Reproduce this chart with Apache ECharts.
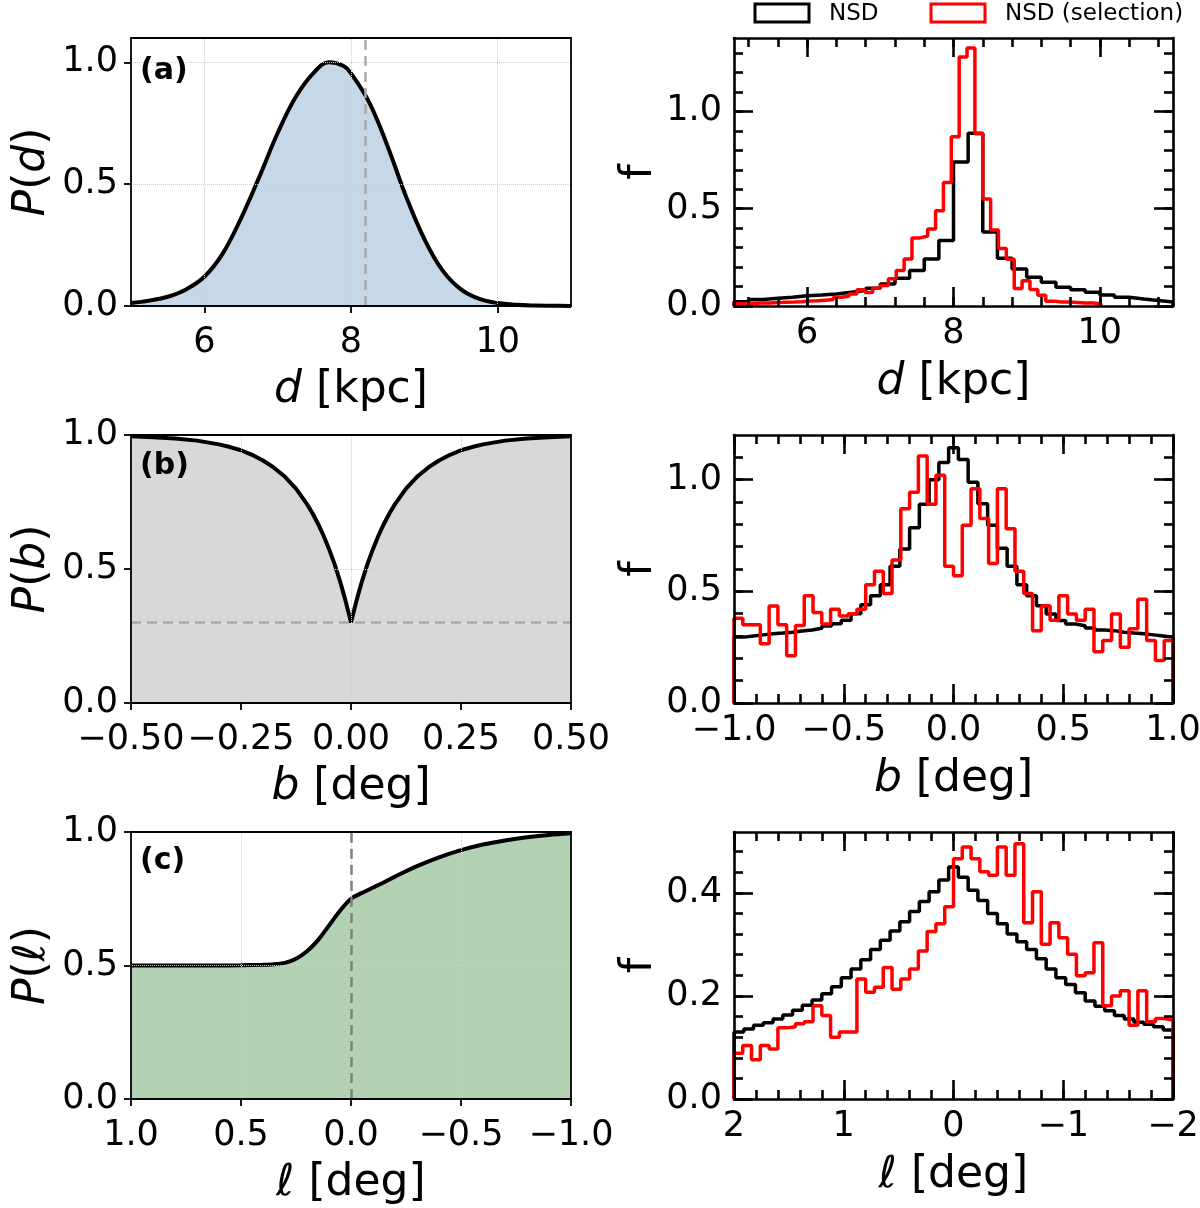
<!DOCTYPE html>
<html><head><meta charset="utf-8">
<script src="https://cdn.jsdelivr.net/npm/echarts@6/dist/echarts.min.js"></script>
<style>html,body{margin:0;padding:0;background:#fff}#c{width:1200px;height:1208px}</style>
</head><body><div id="c"></div><script>
// ---------------- data ----------------
// panel (a): P(d)
const dCurveX = [5.0,5.25,5.5,5.75,6.0,6.25,6.5,6.75,7.0,7.25,7.5,7.7,7.9,8.0,8.25,8.5,8.75,9.0,9.25,9.5,9.75,10.0,10.25,10.5,10.75,11.0];
const dCurveY = [0.012,0.022,0.038,0.068,0.12,0.215,0.36,0.53,0.71,0.86,0.96,1.0,0.985,0.955,0.835,0.655,0.45,0.275,0.145,0.068,0.029,0.012,0.005,0.002,0.001,0.0005];
const dMarker = 8.2;
// panel (b): P(b)
const bCurveX = [-0.5,-0.45,-0.4,-0.35,-0.3,-0.275,-0.25,-0.225,-0.2,-0.175,-0.15,-0.125,-0.1,-0.0875,-0.075,-0.0625,-0.05,-0.0375,-0.025,-0.0125,0,
                 0.0125,0.025,0.0375,0.05,0.0625,0.075,0.0875,0.1,0.125,0.15,0.175,0.2,0.225,0.25,0.275,0.3,0.35,0.4,0.45,0.5];
const bCurveY = [0.995,0.992,0.987,0.979,0.965,0.955,0.943,0.926,0.905,0.878,0.844,0.80,0.742,0.708,0.669,0.625,0.575,0.519,0.455,0.382,0.30,
                 0.382,0.455,0.519,0.575,0.625,0.669,0.708,0.742,0.80,0.844,0.878,0.905,0.926,0.943,0.955,0.965,0.979,0.987,0.992,0.995];
const bMarker = 0.3;
// panel (c): P(l)
const lCurveX = [1.0,0.8,0.6,0.5,0.4,0.35,0.3,0.25,0.2,0.15,0.1,0.05,0.0,-0.05,-0.1,-0.15,-0.2,-0.3,-0.4,-0.5,-0.6,-0.7,-0.8,-0.9,-1.0];
const lCurveY = [0.5,0.5,0.5,0.501,0.503,0.505,0.51,0.525,0.553,0.595,0.65,0.705,0.75,0.772,0.792,0.812,0.833,0.872,0.905,0.932,0.953,0.968,0.98,0.989,0.995];
const lMarker = 0.0;

// histograms: bin start, bin width, values
const dBlackStart = 5.0, dBlackWidth = 0.2;
const dHistBlack = [0.022,0.033,0.040,0.045,0.053,0.057,0.062,0.071,0.079,0.091,0.113,0.142,0.182,0.242,0.337,0.74,0.887,0.38,0.245,0.19,0.148,0.122,0.096,0.083,0.071,0.057,0.045,0.036,0.028,0.02];
const dRedStart = 4.96, dRedWidth = 0.1075;
const dHistRed = [0.012,0.013,0.014,0.015,0.016,0.018,0.019,0.02,0.022,0.026,0.027,0.03,0.033,0.045,0.05,0.062,0.083,0.07,0.091,0.105,0.14,0.182,0.242,0.35,0.36,0.395,0.49,0.635,0.87,1.28,1.325,0.885,0.55,0.39,0.295,0.24,0.09,0.13,0.085,0.055,0.025,0.02,0.02,0.018,0.016,0.015,0.012];

const bBlackStart = -1.0, bBlackWidth = 2/45;
const bHistBlack = [0.295,0.30,0.305,0.31,0.313,0.317,0.322,0.327,0.335,0.345,0.355,0.37,0.40,0.44,0.48,0.53,0.612,0.69,0.785,0.89,1.0,1.077,1.143,1.09,0.988,0.892,0.796,0.693,0.612,0.53,0.48,0.435,0.398,0.369,0.354,0.346,0.336,0.327,0.324,0.317,0.313,0.31,0.305,0.30,0.295];
const bRedStart = -1.0, bRedWidth = 0.04;
const bHistRed = [0.38,0.35,0.35,0.265,0.434,0.35,0.212,0.347,0.48,0.405,0.354,0.42,0.39,0.40,0.42,0.53,0.59,0.49,0.64,0.87,0.944,1.106,0.89,1.02,0.612,0.57,0.796,0.959,0.826,0.625,0.959,0.78,0.59,0.49,0.324,0.435,0.37,0.48,0.398,0.37,0.42,0.229,0.28,0.398,0.25,0.332,0.465,0.28,0.19,0.28];

const lBlackStart = 2.0, lBlackWidth = -4/45;
const lHistBlack = [0.13,0.136,0.143,0.148,0.155,0.163,0.172,0.182,0.192,0.204,0.218,0.235,0.252,0.27,0.29,0.308,0.326,0.344,0.364,0.383,0.402,0.425,0.45,0.43,0.405,0.385,0.36,0.34,0.32,0.305,0.29,0.272,0.252,0.235,0.222,0.206,0.19,0.18,0.171,0.162,0.155,0.149,0.145,0.14,0.134];
const lRedStart = 2.0, lRedWidth = -0.08;
const lHistRed = [0.089,0.104,0.076,0.104,0.097,0.138,0.14,0.146,0.15,0.181,0.162,0.12,0.13,0.13,0.233,0.207,0.217,0.255,0.213,0.233,0.252,0.287,0.325,0.34,0.373,0.466,0.489,0.466,0.441,0.434,0.489,0.434,0.495,0.342,0.402,0.30,0.342,0.313,0.281,0.239,0.245,0.303,0.181,0.20,0.21,0.143,0.21,0.15,0.156,0.153];

// tick labels
const aXTicks = [6,8,10], aYTicks = [0,0.5,1.0];
const bXTicks = [-0.5,-0.25,0,0.25,0.5], bYTicks = [0,0.5,1.0];
const cXTicks = [1,0.5,0,-0.5,-1], cYTicks = [0,0.5,1.0];
const dXTicks = [6,8,10], dYTicks = [0,0.5,1.0];
const eXTicks = [-1,-0.5,0,0.5,1], eYTicks = [0,0.5,1.0];
const fXTicks = [2,1,0,-1,-2], fYTicks = [0,0.2,0.4];
const seriesNames = ['NSD', 'NSD (selection)'];

// ---------------- helpers ----------------
const FONT = 'DejaVu Sans';
const tickFont = {fontSize: 35, fontFamily: FONT, color: '#000', hideOverlap: false};
const nameStyle = {fontSize: 44, fontFamily: FONT, color: '#000',
  rich: {i: {fontStyle: 'italic', fontSize: 44, fontFamily: FONT, color: '#000'}}};
function fmt(dec) { return v => { let s = Math.abs(v).toFixed(dec); if (v < -1e-9) s = '\u2212' + s; return s; }; }
function seq(a, b, s) { const r = []; const n = Math.round((b - a) / s); for (let i = 0; i <= n; i++) r.push(+(a + i * s).toFixed(6)); return r; }
function zip(xs, ys) { return xs.map((x, i) => [x, ys[i]]); }
function stepPts(start, width, vals) {
  const pts = [[start, 0]];
  vals.forEach((v, i) => { pts.push([start + i * width, v]); pts.push([start + (i + 1) * width, v]); });
  pts.push([start + vals.length * width, 0]);
  return pts;
}

const grids = [
  {left: 131, top: 38, width: 440, height: 268},
  {left: 131, top: 435, width: 440, height: 268},
  {left: 131, top: 832, width: 440, height: 267},
  {left: 734, top: 38, width: 439, height: 268},
  {left: 734, top: 435, width: 439, height: 268},
  {left: 734, top: 832, width: 439, height: 267}
].map(g => Object.assign(g, {containLabel: false, outerBoundsMode: 'none'}));

const xAxes = [], yAxes = [];
function leftPanel(gi, o) {
  const line = {show: true, onZero: false, lineStyle: {color: '#000', width: 1.8}};
  const tick = v => ({show: true, inside: false, length: 7, customValues: v, lineStyle: {color: '#000', width: 1.8}});
  const xb = {gridIndex: gi, type: 'value', min: o.xr[0], max: o.xr[1], inverse: !!o.inv, splitLine: {show: false}, z: 10};
  const yb = {gridIndex: gi, type: 'value', min: o.yr[0], max: o.yr[1], splitLine: {show: false}, z: 10};
  const xi = xAxes.push(Object.assign({}, xb, {position: 'bottom', axisLine: line, axisTick: tick(o.xt),
    axisLabel: Object.assign({show: true, customValues: o.xt, formatter: fmt(o.xd), margin: 19}, tickFont),
    name: o.xn, nameLocation: 'middle', nameGap: 63, nameTextStyle: nameStyle})) - 1;
  xAxes.push(Object.assign({}, xb, {position: 'top', axisLine: line, axisTick: {show: false}, axisLabel: {show: false}}));
  const yi = yAxes.push(Object.assign({}, yb, {position: 'left', axisLine: line, axisTick: tick(o.yt),
    axisLabel: Object.assign({show: true, customValues: o.yt, formatter: fmt(o.yd), margin: 13}, tickFont),
    name: o.yn, nameLocation: 'middle', nameRotate: 90, nameGap: 76, nameTextStyle: nameStyle})) - 1;
  yAxes.push(Object.assign({}, yb, {position: 'right', axisLine: line, axisTick: {show: false}, axisLabel: {show: false}}));
  return {xi, yi};
}
function rightPanel(gi, o) {
  const line = {show: true, onZero: false, lineStyle: {color: '#000', width: 2.6}};
  const tick = (v, len) => ({show: true, inside: true, length: len, customValues: v, lineStyle: {color: '#000', width: 2.6}});
  const off = {show: false};
  const offLine = {show: false, onZero: false};
  const xb = {gridIndex: gi, type: 'value', min: o.xr[0], max: o.xr[1], inverse: !!o.inv, splitLine: {show: false}, z: 10};
  const yb = {gridIndex: gi, type: 'value', min: o.yr[0], max: o.yr[1], splitLine: {show: false}, z: 10};
  const xi = xAxes.push(Object.assign({}, xb, {position: 'bottom', axisLine: line, axisTick: tick(o.xt, 19),
    axisLabel: Object.assign({show: true, customValues: o.xt, formatter: fmt(o.xd), margin: 10}, tickFont),
    name: o.xn, nameLocation: 'middle', nameGap: 55, nameTextStyle: nameStyle})) - 1;
  xAxes.push(Object.assign({}, xb, {position: 'bottom', axisLine: offLine, axisTick: tick(o.xm, 9), axisLabel: off}));
  xAxes.push(Object.assign({}, xb, {position: 'top', axisLine: line, axisTick: tick(o.xt, 19), axisLabel: off}));
  xAxes.push(Object.assign({}, xb, {position: 'top', axisLine: offLine, axisTick: tick(o.xm, 9), axisLabel: off}));
  const yi = yAxes.push(Object.assign({}, yb, {position: 'left', axisLine: line, axisTick: tick(o.yt, 19),
    axisLabel: Object.assign({show: true, customValues: o.yt, formatter: fmt(o.yd), margin: 12}, tickFont),
    name: 'f', nameLocation: 'middle', nameRotate: 90, nameGap: 72, nameTextStyle: nameStyle})) - 1;
  yAxes.push(Object.assign({}, yb, {position: 'left', axisLine: offLine, axisTick: tick(o.ym, 9), axisLabel: off}));
  yAxes.push(Object.assign({}, yb, {position: 'right', axisLine: line, axisTick: tick(o.yt, 19), axisLabel: off}));
  yAxes.push(Object.assign({}, yb, {position: 'right', axisLine: offLine, axisTick: tick(o.ym, 9), axisLabel: off}));
  return {xi, yi};
}

const A = leftPanel(0, {xr: [5, 11], yr: [0, 1.1], xt: aXTicks, yt: aYTicks, xd: 0, yd: 1, xn: '{i|d} [kpc]', yn: '{i|P}({i|d})'});
const B = leftPanel(1, {xr: [-0.5, 0.5], yr: [0, 1.0], xt: bXTicks, yt: bYTicks, xd: 2, yd: 1, xn: '{i|b} [deg]', yn: '{i|P}({i|b})'});
const C = leftPanel(2, {xr: [-1, 1], yr: [0, 1.0], inv: true, xt: cXTicks, yt: cYTicks, xd: 1, yd: 1, xn: '{i|ℓ} [deg]', yn: '{i|P}({i|ℓ})'});
const D = rightPanel(3, {xr: [5, 11], yr: [0, 1.377], xt: dXTicks, yt: dYTicks, xm: seq(5.2, 10.8, 0.4), ym: seq(0, 1.3, 0.1), xd: 0, yd: 1, xn: '{i|d} [kpc]'});
const E = rightPanel(4, {xr: [-1, 1], yr: [0, 1.2], xt: eXTicks, yt: eYTicks, xm: seq(-1, 1, 0.1), ym: seq(0, 1.1, 0.1), xd: 1, yd: 1, xn: '{i|b} [deg]'});
const F = rightPanel(5, {xr: [-2, 2], yr: [0, 0.518], inv: true, xt: fXTicks, yt: fYTicks, xm: seq(-2, 2, 0.2), ym: seq(0, 0.48, 0.04), xd: 0, yd: 1, xn: '{i|ℓ} [deg]'});

const series = [];
function curvePanel(ax, xs, ys, fill, smooth, gridX, gridY, dash) {
  series.push({type: 'line', xAxisIndex: ax.xi, yAxisIndex: ax.yi, data: zip(xs, ys), showSymbol: false, smooth: smooth,
    lineStyle: {width: 0}, areaStyle: {color: fill, opacity: 1}, z: 1, silent: true});
  series.push({type: 'line', xAxisIndex: ax.xi, yAxisIndex: ax.yi, data: [], z: 2, silent: true,
    markLine: {silent: true, symbol: ['none', 'none'], label: {show: false}, animation: false,
      lineStyle: {color: '#cfcfcf', width: 1, type: 'dotted'},
      data: gridX.map(v => ({xAxis: v})).concat(gridY.map(v => ({yAxis: v}))).concat([dash])}});
  series.push({type: 'line', xAxisIndex: ax.xi, yAxisIndex: ax.yi, data: zip(xs, ys), showSymbol: false, smooth: smooth,
    lineStyle: {color: '#000', width: 4}, z: 3, silent: true});
}
curvePanel(A, dCurveX, dCurveY, '#c6d8e8', 0.4, [6, 8, 10], [0.5, 1.0],
  {xAxis: dMarker, lineStyle: {color: '#a9a9a9', width: 2.5, type: [10, 6]}});
curvePanel(B, bCurveX, bCurveY, '#d8d8d8', false, [-0.25, 0, 0.25], [0.5],
  {yAxis: bMarker, lineStyle: {color: '#a9a9a9', width: 2.5, type: [10, 6]}});
curvePanel(C, lCurveX, lCurveY, '#b3d1b3', 0.3, [0.5, 0, -0.5], [0.5],
  {xAxis: lMarker, lineStyle: {color: '#7f7f7f', width: 2.5, type: [10, 6]}});

function histPanel(ax, bs, bw, bv, rs, rw, rv) {
  series.push({name: seriesNames[0], type: 'line', xAxisIndex: ax.xi, yAxisIndex: ax.yi, data: stepPts(bs, bw, bv),
    showSymbol: false, clip: true, lineStyle: {color: '#000', width: 3.5}, itemStyle: {color: '#000'}, z: 3, silent: true});
  series.push({name: seriesNames[1], type: 'line', xAxisIndex: ax.xi, yAxisIndex: ax.yi, data: stepPts(rs, rw, rv),
    showSymbol: false, clip: true, lineStyle: {color: '#ff0000', width: 3.5}, itemStyle: {color: '#ff0000'}, z: 4, silent: true});
}
histPanel(D, dBlackStart, dBlackWidth, dHistBlack, dRedStart, dRedWidth, dHistRed);
histPanel(E, bBlackStart, bBlackWidth, bHistBlack, bRedStart, bRedWidth, bHistRed);
histPanel(F, lBlackStart, lBlackWidth, lHistBlack, lRedStart, lRedWidth, lHistRed);

const panelFont = 'bold 30px "DejaVu Sans"';
const graphic = [
  {type: 'text', x: 140, y: 71, style: {text: '(a)', font: panelFont, fill: '#000', verticalAlign: 'middle'}, z: 20},
  {type: 'text', x: 140, y: 466, style: {text: '(b)', font: panelFont, fill: '#000', verticalAlign: 'middle'}, z: 20},
  {type: 'text', x: 140, y: 861, style: {text: '(c)', font: panelFont, fill: '#000', verticalAlign: 'middle'}, z: 20},
  // legend
  {type: 'rect', shape: {x: 755, y: 4, width: 54, height: 18}, style: {fill: 'none', stroke: '#000', lineWidth: 3}, z: 20},
  {type: 'text', x: 829, y: 14, style: {text: seriesNames[0], font: '23px "DejaVu Sans"', fill: '#000', verticalAlign: 'middle'}, z: 20},
  {type: 'rect', shape: {x: 931, y: 4, width: 54, height: 18}, style: {fill: 'none', stroke: '#ff0000', lineWidth: 3}, z: 20},
  {type: 'text', x: 1005, y: 14, style: {text: seriesNames[1], font: '23px "DejaVu Sans"', fill: '#000', verticalAlign: 'middle'}, z: 20}
];

const chart = echarts.init(document.getElementById('c'), null, {renderer: 'canvas'});
chart.setOption({
  animation: false,
  backgroundColor: '#fff',
  textStyle: {fontFamily: FONT},
  grid: grids,
  xAxis: xAxes,
  yAxis: yAxes,
  series: series,
  graphic: graphic
});
</script></body></html>
